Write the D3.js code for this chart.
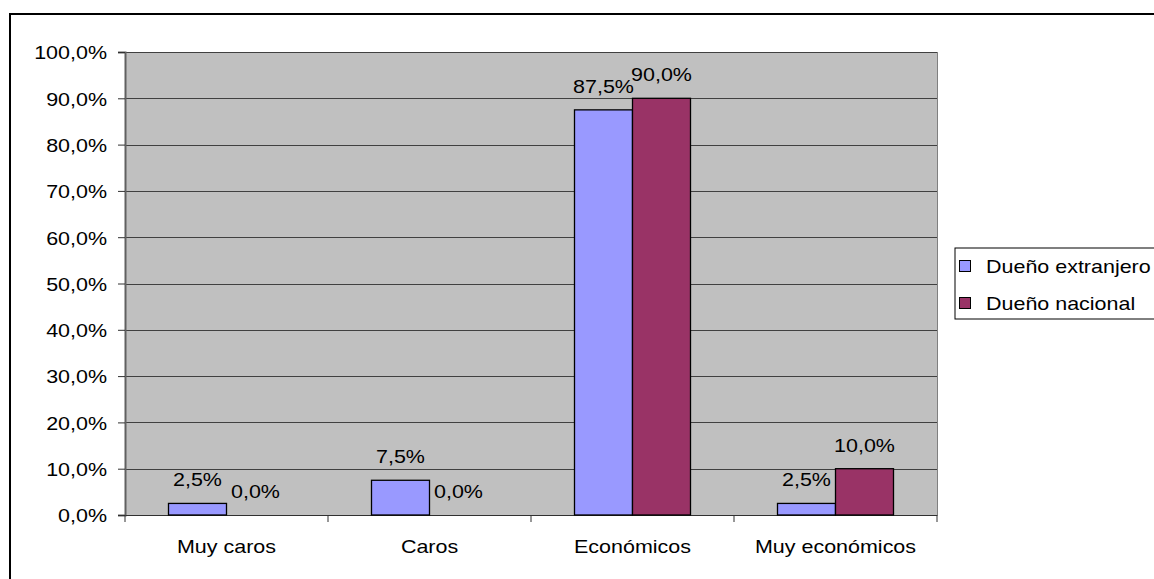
<!DOCTYPE html>
<html>
<head>
<meta charset="utf-8">
<script src="https://d3js.org/d3.v7.min.js"></script>
<style>
  body { margin: 0; background: #ffffff; }
  svg text { font-family: "Liberation Sans", Arial, sans-serif; font-size: 19px; fill: #000000; }
  .grid line { stroke: #404040; stroke-width: 1; shape-rendering: crispEdges; }
</style>
</head>
<body>
<script>
const categories = ["Muy caros", "Caros", "Económicos", "Muy económicos"];
const seriesNames = ["Dueño extranjero", "Dueño nacional"];
const extranjero = [2.5, 7.5, 87.5, 2.5];
const nacional = [0.0, 0.0, 90.0, 10.0];
const yTicks = [0, 10, 20, 30, 40, 50, 60, 70, 80, 90, 100];
const colors = ["#9999ff", "#993366"];

const W = 1154, H = 579;
const SX = 1.13; // horizontal stretch of the original text
const fmt = v => v.toFixed(1).replace(".", ",") + "%";

const svg = d3.select("body").append("svg")
    .attr("width", W).attr("height", H);

function stretch(sel) {
    sel.each(function() {
        const len = this.getComputedTextLength();
        d3.select(this).attr("textLength", len * SX).attr("lengthAdjust", "spacingAndGlyphs");
    });
}

// outer chart frame
svg.append("rect")
    .attr("x", 10).attr("y", 14)
    .attr("width", W + 20).attr("height", H + 20)
    .attr("fill", "#ffffff").attr("stroke", "#000000").attr("stroke-width", 2);

const plotLeft = 125, plotRight = 937, plotTop = 52, plotBottom = 515;

const y = d3.scaleLinear().domain([0, 100]).range([plotBottom, plotTop]);
const x0 = d3.scaleBand().domain(categories).range([plotLeft, plotRight]).paddingInner(0).paddingOuter(0);
const barW = x0.bandwidth() / 3.5;

// plot area
svg.append("rect")
    .attr("x", plotLeft).attr("y", plotTop)
    .attr("width", plotRight - plotLeft).attr("height", plotBottom - plotTop)
    .attr("fill", "#c0c0c0");

svg.append("g").attr("class", "grid")
    .selectAll("line").data(yTicks.slice(1)).join("line")
    .attr("x1", plotLeft).attr("x2", plotRight)
    .attr("y1", d => Math.round(y(d)) + 0.5).attr("y2", d => Math.round(y(d)) + 0.5);

svg.append("line")
    .attr("x1", plotRight + 0.5).attr("x2", plotRight + 0.5)
    .attr("y1", plotTop).attr("y2", plotBottom)
    .attr("stroke", "#808080");

// y axis
const yAxis = svg.append("g")
    .attr("transform", "translate(" + plotLeft + ",0)")
    .call(d3.axisLeft(y).tickValues(yTicks).tickSize(7).tickPadding(11).tickFormat(fmt));
yAxis.select(".domain").attr("stroke", "#606060").attr("stroke-width", 2);
yAxis.selectAll(".tick line").attr("stroke", "#303030");
yAxis.selectAll("text").attr("font-size", null).attr("font-family", null).attr("dy", "0.36em");
stretch(yAxis.selectAll("text"));

// x axis
const xAxis = svg.append("g")
    .attr("transform", "translate(0," + plotBottom + ")")
    .call(d3.axisBottom(x0).tickSize(0).tickPadding(25));
xAxis.select(".domain").attr("stroke", "#303030");
xAxis.selectAll("text").attr("font-size", null).attr("font-family", null);
stretch(xAxis.selectAll("text"));
const bounds = [plotLeft].concat(categories.map(c => x0(c) + x0.bandwidth()));
xAxis.selectAll(".bound").data(bounds).join("line")
    .attr("class", "bound")
    .attr("x1", d => d).attr("x2", d => d)
    .attr("y1", 0).attr("y2", 7)
    .attr("stroke", "#303030");

// bars
const seriesData = [extranjero, nacional];
seriesData.forEach((vals, si) => {
    const g = svg.append("g");
    g.selectAll("rect").data(vals).join("rect")
        .attr("x", (d, i) => x0(categories[i]) + barW * 0.75 + si * barW)
        .attr("y", d => y(d))
        .attr("width", barW)
        .attr("height", d => plotBottom - y(d))
        .attr("fill", colors[si])
        .attr("stroke", "#000000")
        .attr("stroke-width", 1.3);
    const labels = g.selectAll("text").data(vals).join("text")
        .attr("x", (d, i) => x0(categories[i]) + barW * 0.75 + si * barW + barW / 2)
        .attr("y", d => y(d) - 17)
        .attr("text-anchor", "middle")
        .text(fmt);
    stretch(labels);
});

// legend
const legend = svg.append("g").attr("transform", "translate(955,248)");
legend.append("rect")
    .attr("x", 0).attr("y", 0).attr("width", 230).attr("height", 71)
    .attr("fill", "#ffffff").attr("stroke", "#000000").attr("stroke-width", 1);
const items = legend.selectAll(".item").data(seriesNames).join("g")
    .attr("class", "item")
    .attr("transform", (d, i) => "translate(0," + (18 + i * 37) + ")");
items.append("rect")
    .attr("x", 4.5).attr("y", -5.5).attr("width", 11).attr("height", 11)
    .attr("fill", (d, i) => colors[i]).attr("stroke", "#000000");
const legendText = items.append("text")
    .attr("x", 31).attr("y", 0).attr("dy", "0.36em")
    .text(d => d);
stretch(legendText);
</script>
</body>
</html>
